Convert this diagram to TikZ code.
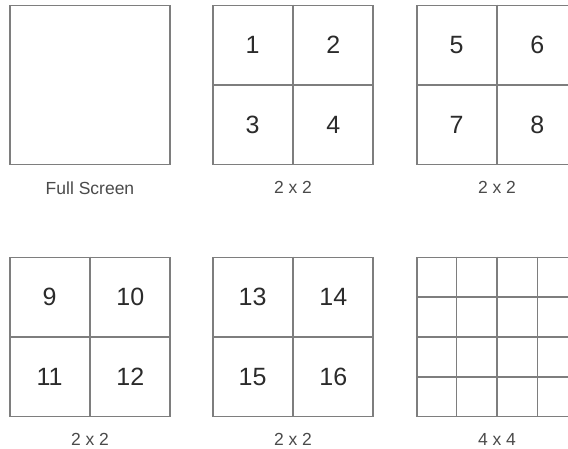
\documentclass[tikz,border=0pt]{standalone}
\usepackage{fontspec}
\setmainfont{Liberation Sans}
\usetikzlibrary{positioning,calc}
\definecolor{frame}{HTML}{7E7E7E}
\definecolor{digit}{HTML}{2B2B2B}
\definecolor{capgray}{HTML}{4A4A4A}

\begin{document}
\begin{tikzpicture}[
  x=1pt,y=-1pt,
  panel/.style={rectangle,draw=frame,line width=1.6pt,
    minimum width=160pt,minimum height=159pt,inner sep=0pt},
  split/.style={draw=frame,line width=1.6pt},
  num/.style={text=digit,font=\fontsize{25}{29}\selectfont},
  captext/.style={text=capgray,font=\fontsize{17.5}{20}\selectfont,inner sep=0pt}]

\useasboundingbox (0,0) rectangle (568,449);
\clip (0,0) rectangle (568,449);

% top row
\node[panel] (full) at (90,85) {};
\node[panel] (quadA) at (293,85) {};
\node[panel] (quadB) at (497,85) {};
% bottom row
\node[panel] (quadC) at (90,337) {};
\node[panel] (quadD) at (293,337) {};
\node[panel] (sixteen) at (497,337) {};

% 2x2 splits
\foreach \p in {quadA,quadB,quadC,quadD} {
  \draw[split] (\p.north) -- (\p.south);
  \draw[split] (\p.west) -- (\p.east);
}
% 4x4 grid
\foreach \t in {0.25,0.5,0.75} {
  \draw[split] ($(sixteen.north west)!\t!(sixteen.north east)$) -- ($(sixteen.south west)!\t!(sixteen.south east)$);
  \draw[split] ($(sixteen.north west)!\t!(sixteen.south west)$) -- ($(sixteen.north east)!\t!(sixteen.south east)$);
}

% window numbers
\foreach \p/\a/\b/\c/\d in {quadA/1/2/3/4,quadB/5/6/7/8,quadC/9/10/11/12,quadD/13/14/15/16} {
  \node[num] (\p-nw) at ($(\p.center)!0.5!(\p.north west)$) {\a};
  \node[num] (\p-ne) at ($(\p.center)!0.5!(\p.north east)$) {\b};
  \node[num] (\p-sw) at ($(\p.center)!0.5!(\p.south west)$) {\c};
  \node[num] (\p-se) at ($(\p.center)!0.5!(\p.south east)$) {\d};
}

% captions
\node[captext,below=16pt of full] (capfull) {Full Screen};
\node[captext,below=16pt of quadA] (capA) {2 x 2};
\node[captext,below=16pt of quadB] (capB) {2 x 2};
\node[captext,below=16pt of quadC] (capC) {2 x 2};
\node[captext,below=16pt of quadD] (capD) {2 x 2};
\node[captext,below=16pt of sixteen] (capsixteen) {4 x 4};
\end{tikzpicture}
\end{document}
